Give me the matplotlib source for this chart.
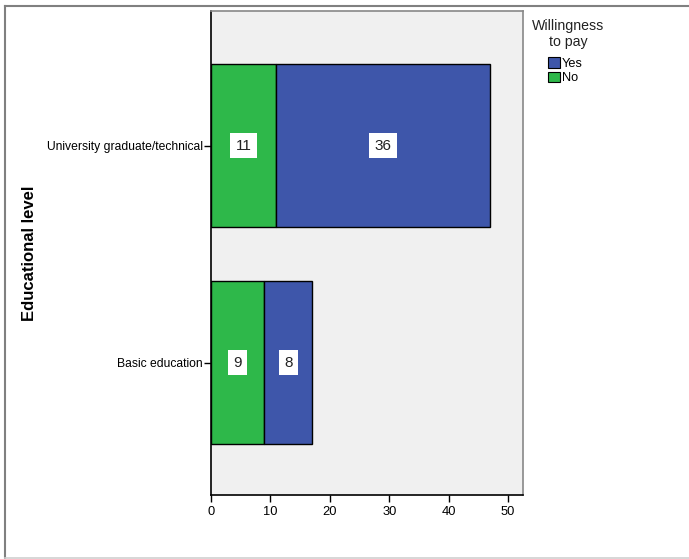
import matplotlib
matplotlib.use("Agg")
import matplotlib.pyplot as plt
from matplotlib.patches import Patch
from matplotlib.lines import Line2D

categories = ["Basic education", "University graduate/technical"]
no_values = [9, 11]
yes_values = [8, 36]
series_names = ["Yes", "No"]
xticks = [0, 10, 20, 30, 40, 50]

plt.rcParams['font.family'] = ['Liberation Sans', 'DejaVu Sans']

W, H = 689, 559
fig = plt.figure(figsize=(W / 100, H / 100), dpi=100)
ax = fig.add_axes([211 / W, 1 - 495 / H, 312 / W, 484 / H])
ax.set_facecolor('#F0F0F0')

green = '#2EB84A'
blue = '#3E56AA'
ypos = list(range(len(categories)))
h = 0.75
ax.barh(ypos, no_values, height=h, color=green, edgecolor='black', linewidth=1, zorder=3)
ax.barh(ypos, yes_values, left=no_values, height=h, color=blue, edgecolor='black', linewidth=1, zorder=3)

for y, n, yv in zip(ypos, no_values, yes_values):
    for xc, v in ((n / 2, n), (n + yv / 2, yv)):
        ax.text(xc, y, str(v), ha='center', va='center', fontsize=11, color='#222222', zorder=5,
                bbox=dict(boxstyle='square,pad=0.35', facecolor='white', edgecolor='none'))

ax.set_xlim(0, 52.5)
ax.set_ylim(-0.61, 1.62)
ax.set_xticks(xticks)
ax.set_xticklabels([str(t) for t in xticks], fontsize=9.3)
ax.set_yticks(ypos)
ax.set_yticklabels(categories, fontsize=8.7)
ax.tick_params(axis='both', direction='out', length=5, width=1, color='black', pad=1)
ax.tick_params(axis='x', pad=3)
for s in ['left', 'bottom']:
    ax.spines[s].set_color('black')
    ax.spines[s].set_linewidth(1.2)
for s in ['top', 'right']:
    ax.spines[s].set_color('#888888')
    ax.spines[s].set_linewidth(1.2)

fig.text(30 / W, 1 - 253 / H, "Educational level", rotation=90, ha='center', va='center',
         fontsize=12, fontweight='bold')

# legend
fig.text(568 / W, 1 - 26 / H, "Willingness", ha='center', va='center', fontsize=10.2, color='#222222')
fig.text(568 / W, 1 - 42 / H, "to pay", ha='center', va='center', fontsize=10.2, color='#222222')
handles = [Patch(facecolor=blue, edgecolor='black', linewidth=0.8),
           Patch(facecolor=green, edgecolor='black', linewidth=0.8)]
fig.legend(handles, series_names, loc='upper left', bbox_to_anchor=(548 / W, 1 - 57 / H),
           frameon=False, fontsize=9.2, handlelength=0.9, handleheight=0.9, handletextpad=0.2,
           labelspacing=0.15, borderpad=0, borderaxespad=0)

# outer frame
fig.add_artist(Line2D([5 / W, 1], [1 - 6 / H, 1 - 6 / H], transform=fig.transFigure, color='#808080', lw=1.5))
fig.add_artist(Line2D([5 / W, 5 / W], [1 - 6 / H, 0], transform=fig.transFigure, color='#808080', lw=1.5))
fig.add_artist(Line2D([5 / W, 1], [1 - 557.5 / H, 1 - 557.5 / H], transform=fig.transFigure, color='#D0D0D0', lw=1.2))

fig.savefig("out.png", dpi=100)
